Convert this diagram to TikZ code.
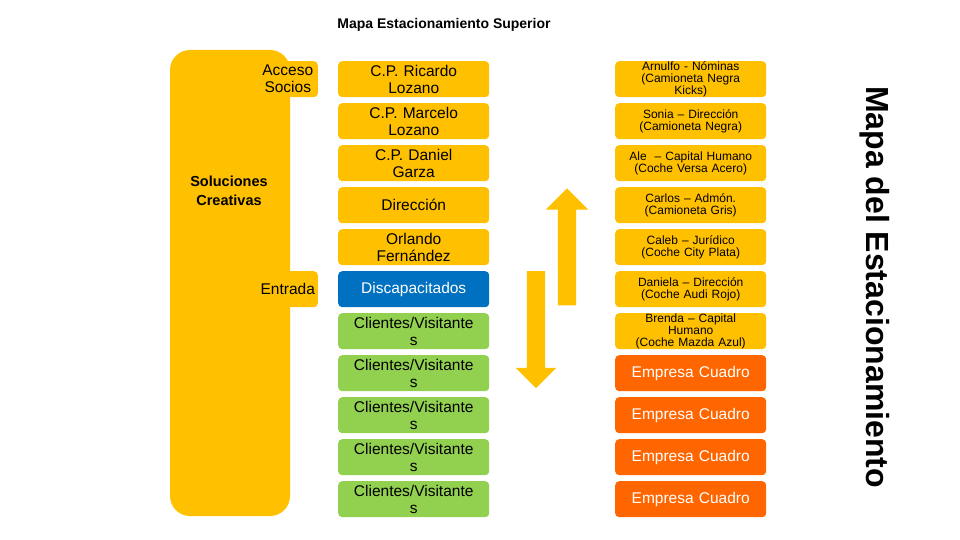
\documentclass[tikz,border=0pt]{standalone}
\usepackage{fontspec}
\setmainfont{Liberation Sans}
\usetikzlibrary{positioning, shapes.arrows}
\definecolor{amarillo}{HTML}{FFC000}
\definecolor{azul}{HTML}{0070C0}
\definecolor{verde}{HTML}{92D050}
\definecolor{naranja}{HTML}{FF6600}
\tikzstyle{lugar}=[fill=amarillo, rounded corners=4pt, minimum width=151pt, minimum height=36pt, inner xsep=1pt, inner ysep=0pt, align=center, text width=135pt, font=\fontsize{15.5}{17}\selectfont]
\tikzstyle{coche}=[lugar, text width=145pt, font=\fontsize{12}{12}\selectfont]
\tikzstyle{pestana}=[fill=amarillo, rounded corners=4pt, minimum width=60pt, minimum height=36pt, inner sep=0pt, anchor=north east, align=center, font=\fontsize{15.5}{17}\selectfont]
\tikzstyle{flecha}=[single arrow, fill=amarillo, inner sep=9pt, minimum height=117pt, single arrow head extend=12pt]
\begin{document}
\begin{tikzpicture}[x=1pt,y=-1pt,node distance=5.6pt]
      \useasboundingbox (0,0) rectangle (960,540);
      \node (titulo) at (444,25) {\fontsize{14}{15}\selectfont\bfseries Mapa Estacionamiento Superior};

      % columna de socios
      \fill[amarillo, rounded corners=20pt] (170,50) rectangle (290,516);
      \node [pestana] (acceso) at (318,61) {Acceso\\Socios};
      \node [pestana] (entrada) at (318,271) {Entrada};
      \node [align=center, font=\fontsize{14.5}{19}\selectfont\bfseries] (sol) at (229,191) {Soluciones\\Creativas};

      % columna central
      \node [lugar, anchor=north west] (m1) at (338,61) {C.P. Ricardo\\Lozano};
      \node [lugar] (m2) [below=of m1] {C.P. Marcelo\\Lozano};
      \node [lugar] (m3) [below=of m2] {C.P. Daniel\\Garza};
      \node [lugar] (m4) [below=of m3] {Dirección};
      \node [lugar] (m5) [below=of m4] {Orlando\\Fernández};
      \node [lugar, fill=azul, text=white] (m6) [below=of m5] {Discapacitados};
      \node [lugar, fill=verde] (m7) [below=of m6] {Clientes/Visitante\\s};
      \node [lugar, fill=verde] (m8) [below=of m7] {Clientes/Visitante\\s};
      \node [lugar, fill=verde] (m9) [below=of m8] {Clientes/Visitante\\s};
      \node [lugar, fill=verde] (m10) [below=of m9] {Clientes/Visitante\\s};
      \node [lugar, fill=verde] (m11) [below=of m10] {Clientes/Visitante\\s};

      % columna derecha
      \node [coche, anchor=north west] (d1) at (615,61) {Arnulfo - Nóminas\\(Camioneta Negra\\Kicks)};
      \node [coche] (d2) [below=of d1] {Sonia – Dirección\\(Camioneta Negra)};
      \node [coche] (d3) [below=of d2] {Ale \ – Capital Humano\\(Coche Versa Acero)};
      \node [coche] (d4) [below=of d3] {Carlos – Admón.\\(Camioneta Gris)};
      \node [coche] (d5) [below=of d4] {Caleb – Jurídico\\(Coche City Plata)};
      \node [coche] (d6) [below=of d5] {Daniela – Dirección\\(Coche Audi Rojo)};
      \node [coche] (d7) [below=of d6] {Brenda – Capital\\Humano\\(Coche Mazda Azul)};
      \node [lugar, fill=naranja, text=white] (d8) [below=of d7] {Empresa Cuadro};
      \node [lugar, fill=naranja, text=white] (d9) [below=of d8] {Empresa Cuadro};
      \node [lugar, fill=naranja, text=white] (d10) [below=of d9] {Empresa Cuadro};
      \node [lugar, fill=naranja, text=white] (d11) [below=of d10] {Empresa Cuadro};

      % flechas
      \node [flecha, shape border rotate=270, single arrow head extend=11pt] (baja) at (536,325) {};
      \node [flecha, shape border rotate=90] (sube) at (567,251.5) {};

      \node [rotate=-90, font=\fontsize{32}{34}\selectfont\bfseries] (mapa) at (875,287) {Mapa del Estacionamiento};
  \end{tikzpicture}
\end{document}
